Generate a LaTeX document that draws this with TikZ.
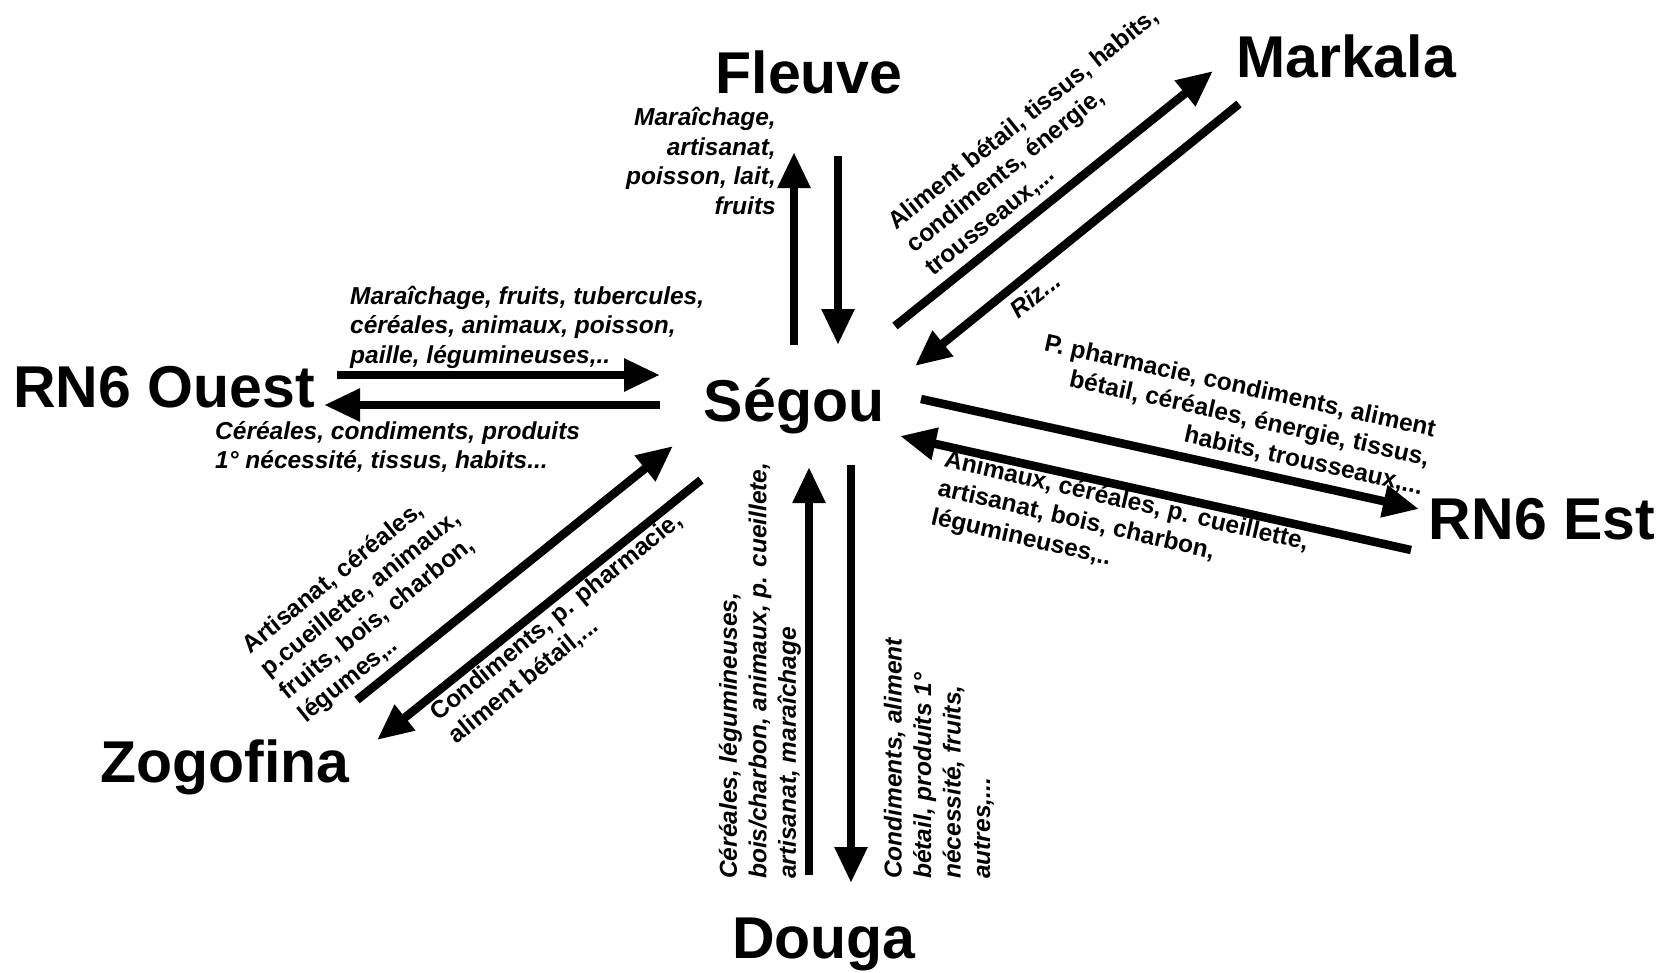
\documentclass[tikz,border=0pt]{standalone}
\usepackage{fontspec}
\setmainfont{Liberation Sans}
\usetikzlibrary{arrows.meta}
\begin{document}
\begin{tikzpicture}[x=1pt,y=-1pt,
  place/.style={font=\bfseries\fontsize{59}{66}\selectfont, inner sep=0pt, anchor=base},
  lbl/.style={font=\bfseries\fontsize{24.5}{29.5}\selectfont, inner sep=0pt},
  ilbl/.style={font=\bfseries\itshape\fontsize{24.5}{29.5}\selectfont, inner sep=0pt},
  flow/.style={line width=8.5pt, -{Triangle[length=36pt,width=31pt]}}]
\useasboundingbox (0,0) rectangle (1664,972);
% places
\node[place] (fleuve) at (809,93) {Fleuve};
\node[place] (markala) at (1346,77) {Markala};
\node[place] (ouest) at (164,407) {RN6 Ouest};
\node[place] (segou) at (794,421) {Ségou};
\node[place] (est) at (1542,539) {RN6 Est};
\node[place] (zogo) at (225,782) {Zogofina};
\node[place] (douga) at (824,958) {Douga};
% arrow end points
\coordinate (f1a) at (794,345); \coordinate (f1b) at (794,152);
\coordinate (f2a) at (838,156); \coordinate (f2b) at (838,345);
\coordinate (m1a) at (895,326); \coordinate (m1b) at (1213,71);
\coordinate (m2a) at (1239,104); \coordinate (m2b) at (915,366);
\coordinate (o1a) at (337,375); \coordinate (o1b) at (660,375);
\coordinate (o2a) at (660,405); \coordinate (o2b) at (324,405);
\coordinate (e1a) at (921,399); \coordinate (e1b) at (1419,509);
\coordinate (e2a) at (1411,550); \coordinate (e2b) at (900,436);
\coordinate (z1a) at (357,700); \coordinate (z1b) at (673,446);
\coordinate (z2a) at (701,480); \coordinate (z2b) at (377,740);
\coordinate (d1a) at (809,875); \coordinate (d1b) at (809,467);
\coordinate (d2a) at (851,465); \coordinate (d2b) at (851,883);
\draw[flow] (f1a) -- (f1b);
\draw[flow] (f2a) -- (f2b);
\draw[flow] (m1a) -- (m1b);
\draw[flow] (m2a) -- (m2b);
\draw[flow] (o1a) -- (o1b);
\draw[flow] (o2a) -- (o2b);
\draw[flow] (e1a) -- (e1b);
\draw[flow] (e2a) -- (e2b);
\draw[flow] (z1a) -- (z1b);
\draw[flow] (z2a) -- (z2b);
\draw[flow] (d1a) -- (d1b);
\draw[flow] (d2a) -- (d2b);
% labels
\node[ilbl, align=right, anchor=east] (lf) at (776,161) {Maraîchage,\\artisanat,\\poisson, lait,\\fruits};
\node[lbl, align=left, anchor=west, rotate=38.7] (lm1) at (910,248) {Aliment bétail, tissus, habits,\\condiments, énergie,\\trousseaux,...};
\node[ilbl, rotate=38.7] (lm2) at (1035,295) {Riz...};
\node[ilbl, align=left, anchor=west] (lo1) at (350,327) {Maraîchage, fruits, tubercules,\\céréales, animaux, poisson,\\paille, légumineuses,..};
\node[ilbl, align=left, anchor=west] (lo2) at (215,447) {Céréales, condiments, produits\\1° nécessité, tissus, habits...};
\node[lbl, align=right, anchor=east, rotate=-12.5] (le1) at (1429,459) {P. pharmacie, condiments, aliment\\bétail, céréales, énergie, tissus,\\habits, trousseaux,...};
\node[lbl, align=left, anchor=west, rotate=-13] (le2) at (938,489) {Animaux, céréales, p. cueillette,\\artisanat, bois, charbon,\\légumineuses,..};
\node[lbl, align=left, anchor=west, rotate=39] (lz1) at (274,684) {Artisanat, céréales,\\p.cueillette, animaux,\\fruits, bois, charbon,\\légumes,..};
\node[lbl, align=left, anchor=west, rotate=39] (lz2) at (443,728) {Condiments, p. pharmacie,\\aliment bétail,...};
\node[ilbl, align=left, anchor=west, rotate=90] (ld1) at (760,879) {Céréales, légumineuses,\\bois/charbon, animaux, p. cueillete,\\artisanat, maraîchage};
\node[ilbl, align=left, anchor=west, rotate=90] (ld2) at (939,879) {Condiments, aliment\\bétail, produits 1°\\nécessité, fruits,\\autres,...};
\end{tikzpicture}
\end{document}
